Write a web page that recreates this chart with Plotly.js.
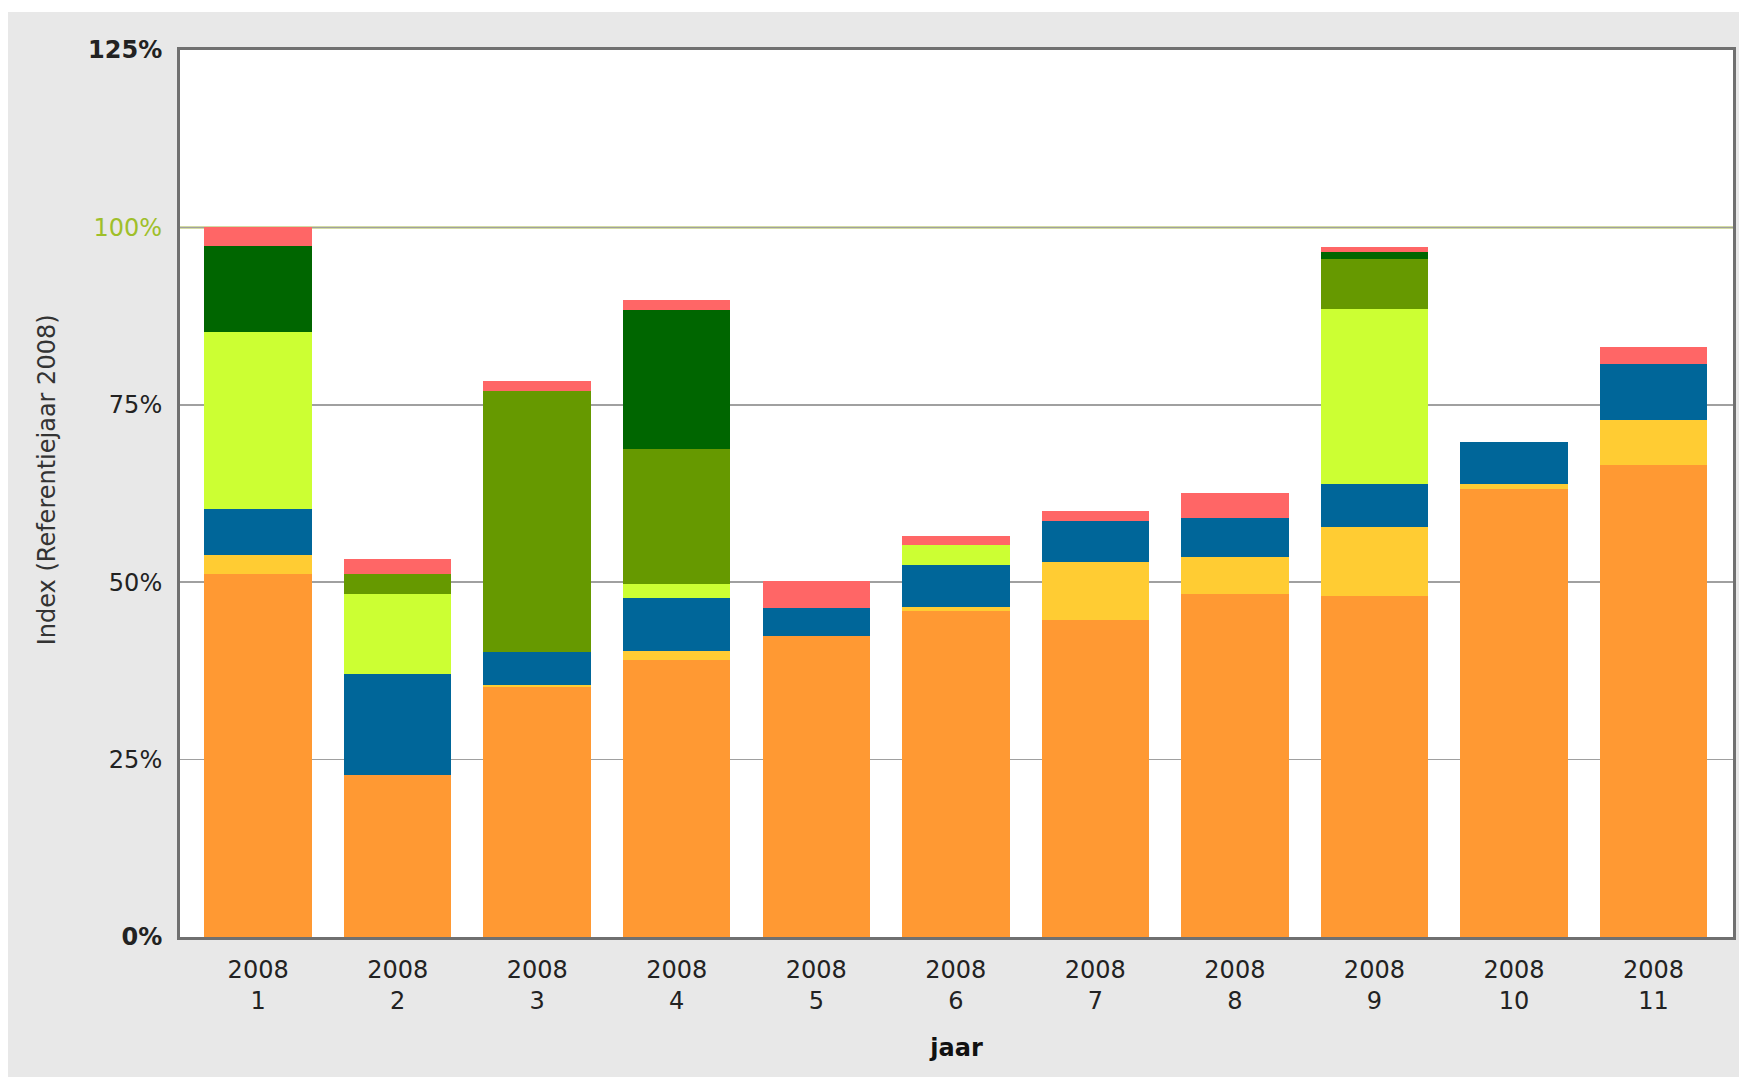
<!DOCTYPE html>
<html>
<head>
<meta charset="utf-8">
<script src="https://cdn.plot.ly/plotly-3.0.1.min.js"></script>
<style>
  html, body { margin: 0; padding: 0; background: #ffffff; }
  #chart { position: absolute; left: 8px; top: 12px; width: 1731px; height: 1065px; }
</style>
</head>
<body>
<div id="chart"></div>
<script>
// Data (index, % of reference year 2008)
const years  = ['2008','2008','2008','2008','2008','2008','2008','2008','2008','2008','2008'];
const months = ['1','2','3','4','5','6','7','8','9','10','11'];

const seriesOrange   = [51.1, 22.9, 35.2, 39.1, 42.4, 46.0, 44.7, 48.3, 48.1, 63.2, 66.5];
const seriesGold     = [2.8,  0,    0.3,  1.2,  0,    0.5,  8.1,  5.2,  9.7,  0.6,  6.4];
const seriesBlue     = [6.4,  14.1, 4.6,  7.5,  3.9,  5.9,  5.8,  5.6,  6.1,  5.9,  7.8];
const seriesLime     = [24.9, 11.3, 0,    1.9,  0,    2.8,  0,    0,    24.6, 0,    0];
const seriesOlive    = [0,    2.9,  36.8, 19.1, 0,    0,    0,    0,    7.1,  0,    0];
const seriesDarkGrn  = [12.2, 0,    0,    19.5, 0,    0,    0,    0,    0.9,  0,    0];
const seriesRed      = [2.6,  2.0,  1.5,  1.4,  3.8,  1.3,  1.5,  3.5,  0.7,  0,    2.5];

const yTickVals = [0, 25, 50, 75, 100, 125];
const yTickText = ['<b>0%</b>', '25%', '50%', '75%', '<span style="color:#9fbf2a">100%</span>', '<b>125%</b>'];
const yTitle = 'Index (Referentiejaar 2008)';
const xTitle = 'jaar';

const categories = years.map((y, i) => y + '<br>' + months[i]);

const seriesList = [
  {name: 'Reeks 1', values: seriesOrange,  color: '#FF9933'},
  {name: 'Reeks 2', values: seriesGold,    color: '#FFCC33'},
  {name: 'Reeks 3', values: seriesBlue,    color: '#006699'},
  {name: 'Reeks 4', values: seriesLime,    color: '#CCFF33'},
  {name: 'Reeks 5', values: seriesOlive,   color: '#669900'},
  {name: 'Reeks 6', values: seriesDarkGrn, color: '#006600'},
  {name: 'Reeks 7', values: seriesRed,     color: '#FF6666'}
];

const traces = seriesList.map(s => ({
  type: 'bar',
  name: s.name,
  x: categories,
  y: s.values,
  marker: {color: s.color, line: {width: 0}},
  hoverinfo: 'skip'
}));

const layout = {
  width: 1731,
  height: 1065,
  barmode: 'stack',
  bargap: 0.23,
  showlegend: false,
  paper_bgcolor: '#E8E8E8',
  plot_bgcolor: '#FFFFFF',
  margin: {l: 172, r: 6, t: 38, b: 140, pad: 0},
  font: {family: 'DejaVu Sans, sans-serif', size: 24, color: '#222222'},
  xaxis: {
    type: 'category',
    range: [-0.56, 10.57],
    showgrid: false,
    zeroline: false,
    showline: true,
    linecolor: '#707070',
    linewidth: 3,
    mirror: true,
    ticks: 'outside',
    ticklen: 9,
    tickcolor: 'rgba(0,0,0,0)',
    tickfont: {family: 'DejaVu Sans, sans-serif', size: 24, color: '#222222'},
    title: {text: '<b>' + xTitle + '</b>', font: {family: 'DejaVu Sans, sans-serif', size: 24, color: '#111111'}, standoff: 26},
    fixedrange: true
  },
  yaxis: {
    range: [0, 125],
    tickmode: 'array',
    tickvals: yTickVals,
    ticktext: yTickText,
    showgrid: true,
    gridcolor: '#A0A0A0',
    gridwidth: 1.5,
    zeroline: false,
    showline: true,
    linecolor: '#707070',
    linewidth: 3,
    mirror: true,
    ticks: 'outside',
    ticklen: 10,
    tickcolor: 'rgba(0,0,0,0)',
    tickfont: {family: 'DejaVu Sans, sans-serif', size: 24, color: '#222222'},
    fixedrange: true
  },
  annotations: [
    {text: yTitle, xref: 'paper', yref: 'paper', x: -0.0856, y: 0.515,
     xanchor: 'center', yanchor: 'middle', textangle: -90, showarrow: false,
     font: {family: 'DejaVu Sans, sans-serif', size: 24, color: '#333333'}}
  ],
  shapes: [
    {type: 'line', xref: 'paper', yref: 'y', x0: 0, x1: 1, y0: 100, y1: 100,
     line: {color: '#A8B84A', width: 2}, layer: 'below'}
  ]
};

Plotly.newPlot('chart', traces, layout, {displayModeBar: false, staticPlot: true});
</script>
</body>
</html>
